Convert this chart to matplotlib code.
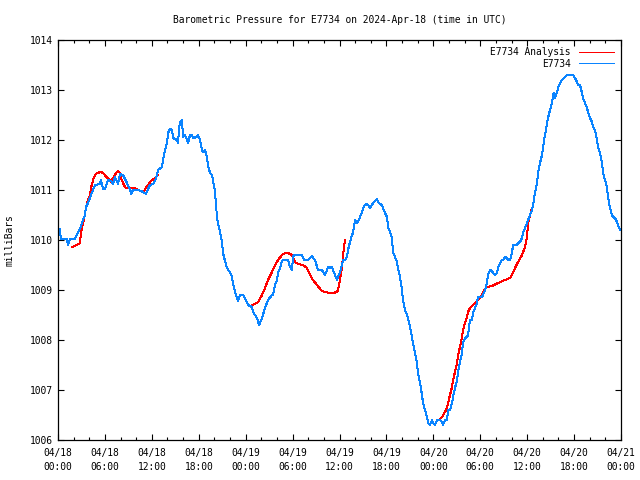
import numpy as np
import matplotlib
matplotlib.use("Agg")
import matplotlib.pyplot as plt
from matplotlib.ticker import MultipleLocator

# ---- data (hours since 2024-04-18 00:00 UTC, pressure in mb) ----
obs_hours = [0.2, 0.38, 1.15, 1.28, 1.53, 2.17, 2.43, 2.81, 3.20, 3.45, 3.58, 3.84, 4.22, 4.48, 4.73,
             5.37, 5.50, 5.75, 6.01, 6.39, 6.78, 7.03, 7.29, 7.67, 7.93, 8.31, 8.70, 9.21, 9.34, 9.59,
             10.23, 10.61, 10.87, 11.25, 11.51, 11.77, 12.15, 12.41, 12.66, 12.79, 13.30, 13.43, 13.69,
             13.94, 14.07, 14.32, 14.58, 14.71, 15.22, 15.35, 15.47, 15.60, 15.86, 15.99, 16.24, 16.50,
             16.63, 16.88, 17.14, 17.27, 17.78, 17.90, 18.16, 18.42, 18.54, 18.80, 19.06, 19.18, 19.44,
             19.70, 19.82, 20.08, 20.33, 20.46, 20.72, 20.97, 21.10, 21.49, 21.74, 22.00, 22.25, 22.38,
             22.64, 22.89, 23.02, 23.28, 23.66, 23.91, 24.30, 24.81, 24.94, 25.45, 25.71, 26.09, 26.47,
             26.86, 27.37, 27.50, 27.75, 28.01, 28.14, 28.39, 28.65, 28.77, 29.41, 29.67, 29.93, 30.05,
             30.18, 30.69, 31.20, 31.46, 31.97, 32.23, 32.48, 32.61, 32.87, 33.25, 33.76, 33.89, 34.15,
             34.40, 34.53, 34.79, 35.04, 35.17, 35.42, 35.68, 35.81, 36.06, 36.32, 36.45, 36.70, 36.96,
             37.09, 37.34, 37.60, 37.73, 37.98, 38.24, 38.37, 38.62, 38.88, 39.01, 39.26, 39.52, 39.65,
             39.90, 40.16, 40.28, 40.54, 40.80, 40.92, 41.18, 41.44, 41.56, 41.82, 42.08, 42.20, 42.46,
             42.71, 42.84, 43.10, 43.35, 43.48, 43.74, 43.99, 44.12, 44.38, 44.63, 44.76, 45.02, 45.27,
             45.40, 45.66, 45.91, 46.04, 46.30, 46.55, 46.68, 46.94, 47.19, 47.32, 47.58, 47.83, 47.96,
             48.22, 48.47, 48.85, 49.11, 49.24, 49.49, 49.75, 49.88, 50.13, 50.39, 50.52, 50.77, 51.03,
             51.16, 51.41, 51.67, 51.79, 52.05, 52.31, 52.43, 52.69, 52.95, 53.07, 53.33, 53.58, 53.71,
             54.22, 54.35, 54.61, 54.86, 54.99, 55.25, 55.50, 55.63, 55.89, 56.14, 56.27, 56.53, 56.78,
             56.91, 57.17, 57.42, 57.55, 57.81, 58.06, 58.19, 58.70, 58.83, 59.08, 59.34, 59.47, 59.72,
             59.98, 60.11, 60.36, 60.62, 60.75, 61.00, 61.26, 61.39, 61.64, 61.90, 62.03, 62.15, 62.41,
             62.54, 62.67, 62.92, 63.18, 63.31, 63.43, 63.56, 63.82, 63.95, 64.20, 64.46, 64.58, 64.84,
             65.10, 65.86, 66.12, 66.38, 66.50, 66.76, 67.01, 67.14, 67.40, 67.65, 67.78, 68.04, 68.29,
             68.42, 68.68, 68.93, 69.06, 69.32, 69.57, 69.70, 69.96, 70.21, 70.34, 70.59, 70.85, 70.98,
             71.24, 71.49, 71.62, 71.87]
obs_mb = [1010.22, 1010.02, 1010.02, 1009.90, 1010.02, 1010.02, 1010.12, 1010.22, 1010.40, 1010.50,
          1010.66, 1010.74, 1010.90, 1011.00, 1011.10, 1011.12, 1011.20, 1011.02, 1011.02, 1011.20,
          1011.18, 1011.12, 1011.26, 1011.12, 1011.32, 1011.30, 1011.18, 1011.00, 1010.92, 1011.00,
          1011.00, 1010.98, 1010.96, 1010.92, 1011.02, 1011.10, 1011.12, 1011.18, 1011.30, 1011.40,
          1011.46, 1011.60, 1011.80, 1011.94, 1012.14, 1012.22, 1012.20, 1012.04, 1012.00, 1011.94,
          1012.20, 1012.36, 1012.40, 1012.06, 1012.10, 1012.00, 1011.94, 1012.10, 1012.10, 1012.04,
          1012.06, 1012.10, 1012.00, 1011.80, 1011.76, 1011.80, 1011.64, 1011.50, 1011.34, 1011.30,
          1011.20, 1010.96, 1010.46, 1010.34, 1010.16, 1009.96, 1009.74, 1009.50, 1009.40, 1009.36,
          1009.26, 1009.14, 1008.96, 1008.84, 1008.78, 1008.90, 1008.90, 1008.84, 1008.70, 1008.66,
          1008.56, 1008.44, 1008.30, 1008.44, 1008.64, 1008.80, 1008.90, 1008.90, 1009.10, 1009.20,
          1009.34, 1009.44, 1009.58, 1009.60, 1009.60, 1009.46, 1009.40, 1009.66, 1009.70, 1009.70,
          1009.70, 1009.60, 1009.60, 1009.64, 1009.68, 1009.64, 1009.60, 1009.40, 1009.40, 1009.36,
          1009.30, 1009.40, 1009.46, 1009.44, 1009.46, 1009.40, 1009.30, 1009.20, 1009.26, 1009.36,
          1009.50, 1009.60, 1009.60, 1009.66, 1009.80, 1009.96, 1010.10, 1010.14, 1010.40, 1010.34,
          1010.36, 1010.46, 1010.56, 1010.64, 1010.70, 1010.72, 1010.70, 1010.64, 1010.70, 1010.74,
          1010.78, 1010.82, 1010.76, 1010.72, 1010.70, 1010.64, 1010.54, 1010.46, 1010.26, 1010.16,
          1010.04, 1009.76, 1009.66, 1009.56, 1009.44, 1009.26, 1009.00, 1008.80, 1008.60, 1008.50,
          1008.44, 1008.26, 1008.06, 1007.94, 1007.74, 1007.54, 1007.34, 1007.14, 1006.90, 1006.74,
          1006.60, 1006.46, 1006.34, 1006.30, 1006.40, 1006.34, 1006.30, 1006.40, 1006.40, 1006.36,
          1006.30, 1006.40, 1006.40, 1006.60, 1006.60, 1006.74, 1006.86, 1007.04, 1007.20, 1007.36,
          1007.56, 1007.74, 1007.94, 1008.04, 1008.06, 1008.10, 1008.40, 1008.40, 1008.54, 1008.64,
          1008.74, 1008.86, 1008.86, 1008.90, 1009.00, 1009.14, 1009.30, 1009.40, 1009.38, 1009.34,
          1009.30, 1009.34, 1009.44, 1009.54, 1009.60, 1009.60, 1009.66, 1009.64, 1009.60, 1009.60,
          1009.74, 1009.90, 1009.90, 1009.94, 1009.96, 1010.04, 1010.14, 1010.24, 1010.34, 1010.40,
          1010.50, 1010.60, 1010.70, 1010.94, 1011.14, 1011.34, 1011.54, 1011.70, 1011.84, 1012.00,
          1012.20, 1012.36, 1012.44, 1012.60, 1012.74, 1012.90, 1012.94, 1012.84, 1012.96, 1013.04,
          1013.14, 1013.20, 1013.22, 1013.26, 1013.30, 1013.30, 1013.24, 1013.16, 1013.10, 1013.10,
          1012.94, 1012.84, 1012.74, 1012.64, 1012.56, 1012.44, 1012.36, 1012.26, 1012.20, 1012.00,
          1011.86, 1011.74, 1011.54, 1011.34, 1011.20, 1011.04, 1010.86, 1010.64, 1010.50, 1010.46,
          1010.44, 1010.36, 1010.30, 1010.20]

# Analysis series (three separate segments)
ana1_hours = [1.79, 2.43, 2.81, 2.94, 3.20, 3.45, 3.58, 3.84, 4.09, 4.22, 4.48, 4.73, 4.99, 5.50, 5.75,
              6.01, 6.14, 6.39, 6.65, 6.78, 7.03, 7.29, 7.42, 7.67, 7.93, 8.06, 8.31, 8.57, 8.70, 9.85,
              10.23, 10.61, 10.87, 11.13, 11.25, 11.51, 11.89, 12.41, 12.79]
ana1_mb = [1009.86, 1009.90, 1009.94, 1010.14, 1010.34, 1010.50, 1010.66, 1010.80, 1010.90, 1011.04,
           1011.20, 1011.30, 1011.34, 1011.36, 1011.34, 1011.30, 1011.26, 1011.24, 1011.20, 1011.16,
           1011.24, 1011.30, 1011.34, 1011.38, 1011.34, 1011.24, 1011.14, 1011.06, 1011.04, 1011.04,
           1011.00, 1010.98, 1010.96, 1011.00, 1011.06, 1011.10, 1011.18, 1011.24, 1011.30]
ana2_hours = [24.81, 25.19, 25.58, 26.09, 26.47, 26.86, 27.37, 27.75, 28.14, 28.65, 29.03, 29.41, 29.93,
              30.31, 30.69, 31.33, 31.84, 32.23, 32.61, 33.12, 33.76, 34.15, 34.79, 35.17, 35.68, 35.81,
              36.06, 36.32, 36.45, 36.70]
ana2_mb = [1008.70, 1008.72, 1008.76, 1008.90, 1009.04, 1009.20, 1009.36, 1009.50, 1009.60, 1009.70,
           1009.74, 1009.74, 1009.70, 1009.56, 1009.52, 1009.50, 1009.44, 1009.30, 1009.20, 1009.10,
           1008.98, 1008.96, 1008.94, 1008.94, 1008.96, 1009.00, 1009.20, 1009.46, 1009.70, 1010.00]
ana3_hours = [48.85, 49.11, 49.49, 49.75, 49.88, 50.13, 50.39, 50.52, 50.77, 51.03, 51.16, 51.41, 51.67,
              51.79, 52.05, 52.31, 52.43, 52.69, 53.07, 53.33, 53.71, 54.22, 54.48, 54.86, 55.50, 56.27,
              57.17, 57.81, 58.06, 58.44, 58.83, 59.34, 59.72, 59.98, 60.11, 60.36, 60.62]
ana3_mb = [1006.42, 1006.46, 1006.56, 1006.64, 1006.74, 1006.90, 1007.06, 1007.20, 1007.36, 1007.54,
           1007.70, 1007.86, 1008.06, 1008.20, 1008.34, 1008.46, 1008.56, 1008.64, 1008.70, 1008.74,
           1008.80, 1008.90, 1009.00, 1009.06, 1009.08, 1009.14, 1009.20, 1009.24, 1009.30, 1009.44,
           1009.56, 1009.70, 1009.86, 1010.06, 1010.34, 1010.50, 1010.64]

xtick_hours = [0, 6, 12, 18, 24, 30, 36, 42, 48, 54, 60, 66, 72]
xtick_labels = ["04/18\n00:00", "04/18\n06:00", "04/18\n12:00", "04/18\n18:00",
                "04/19\n00:00", "04/19\n06:00", "04/19\n12:00", "04/19\n18:00",
                "04/20\n00:00", "04/20\n06:00", "04/20\n12:00", "04/20\n18:00",
                "04/21\n00:00"]
ytick_vals = [1006, 1007, 1008, 1009, 1010, 1011, 1012, 1013, 1014]

title = "Barometric Pressure for E7734 on 2024-Apr-18 (time in UTC)"
RED = "#ff0000"
BLUE = "#0a84ff"

plt.rcParams['font.family'] = ['DejaVu Sans Mono']
FS = 6.9

fig = plt.figure(figsize=(6.4, 4.8), dpi=100)
ax = fig.add_axes([58/640, 1-440/480, (621-58)/640, 400/480])

nan = np.nan
ana_h = ana1_hours + [nan] + ana2_hours + [nan] + ana3_hours
ana_p = ana1_mb + [nan] + ana2_mb + [nan] + ana3_mb

ax.plot(ana_h, ana_p, color=RED, lw=0.72, label="E7734 Analysis", antialiased=False)
ax.plot(obs_hours, obs_mb, color=BLUE, lw=0.72, label="E7734", antialiased=False)

ax.set_xlim(0, 72)
ax.set_ylim(1006, 1014)
ax.set_xticks(xtick_hours)
ax.set_xticklabels(xtick_labels, fontsize=FS, linespacing=1.45)
ax.xaxis.set_minor_locator(MultipleLocator(2))
ax.set_yticks(ytick_vals)
ax.set_yticklabels([str(v) for v in ytick_vals], fontsize=FS)
ax.tick_params(axis='both', which='major', direction='in', length=4.5, width=0.8,
               top=True, right=True, pad=4)
ax.tick_params(axis='x', which='minor', direction='in', length=2.5, width=0.8, top=True)
ax.tick_params(axis='x', which='major', pad=6)
for s in ax.spines.values():
    s.set_linewidth(0.9)

ax.set_ylabel("milliBars", fontsize=FS, labelpad=11)
fig.text(340/640, 1-20/480, title, ha='center', va='center', fontsize=FS)

leg = ax.legend(loc='upper right', fontsize=FS, frameon=False, markerfirst=False,
                handlelength=3.6, handletextpad=0.9, labelspacing=0.15,
                borderaxespad=0.35)
for t in leg.get_texts():
    t.set_ha('right')
leg._legend_box.align = "right"

fig.savefig("out.png", dpi=100)
